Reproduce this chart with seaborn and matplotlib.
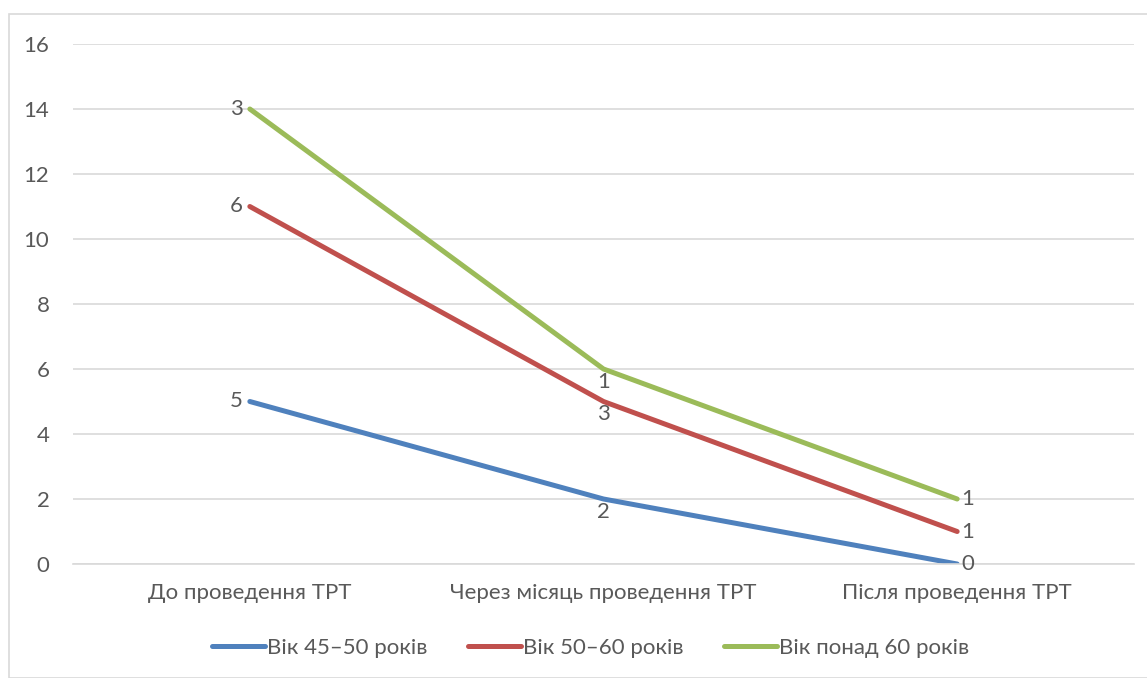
import numpy as np
import pandas as pd
import matplotlib
matplotlib.use("Agg")
import matplotlib.pyplot as plt
import seaborn as sns
from matplotlib.patches import Rectangle

categories = ["До проведення ТРТ", "Через місяць проведення ТРТ", "Після проведення ТРТ"]
series_names = ["Вік 45–50 років", "Вік 50–60 років", "Вік понад 60 років"]
vals_45_50 = [5, 2, 0]
vals_50_60 = [6, 3, 1]
vals_60_plus = [3, 1, 1]
yticks = [0, 2, 4, 6, 8, 10, 12, 14, 16]
colors = ["#4F81BD", "#C0504D", "#9BBB59"]

sns.set_theme(style="white")
plt.rcParams['font.family'] = ['Lato', 'DejaVu Sans']
FS = 16

series_vals = [vals_45_50, vals_50_60, vals_60_plus]
cum = np.cumsum(np.array(series_vals, dtype=float), axis=0)

rows = []
for name, raw, c in zip(series_names, series_vals, cum):
    for i, cat in enumerate(categories):
        rows.append({"cat": cat, "x": i, "series": name, "y": c[i], "raw": raw[i]})
df = pd.DataFrame(rows)

fig = plt.figure(figsize=(11.47, 6.78), dpi=100)
ax = fig.add_axes([73/1147, 1-564/678, (1134-73)/1147, (564-44)/678])

sns.lineplot(data=df, x="x", y="y", hue="series", palette=colors,
             linewidth=3.6, ax=ax, legend=True, sort=False)
for line in ax.get_lines():
    line.set_solid_capstyle("round")

ax.set_xlim(-0.5, 2.5)
ax.set_ylim(0, 16)
ax.set_yticks(yticks)
ax.set_xticks(range(len(categories)))
ax.set_xticklabels(categories)
ax.grid(axis="y", color="#D9D9D9", linewidth=1.2)
ax.set_axisbelow(True)
for s in ax.spines.values():
    s.set_visible(False)
ax.spines["bottom"].set_visible(True)
ax.spines["bottom"].set_color("#D9D9D9")
ax.spines["bottom"].set_linewidth(1.2)
ax.tick_params(axis="both", length=0, labelsize=FS, colors="#595959")
ax.tick_params(axis="x", pad=14)
ax.tick_params(axis="y", pad=17)
ax.set_xlabel("")
ax.set_ylabel("")

# data labels
for _, r in df.iterrows():
    x, y, t = r["x"], r["y"], str(int(r["raw"]))
    if x == 0:
        ax.annotate(t, (x, y), xytext=(-5, 0), textcoords="offset points",
                    ha="right", va="center", fontsize=FS, color="#595959")
    elif x == 1:
        ax.annotate(t, (x, y), xytext=(0, -2), textcoords="offset points",
                    ha="center", va="top", fontsize=FS, color="#595959")
    else:
        ax.annotate(t, (x, y), xytext=(3, 0), textcoords="offset points",
                    ha="left", va="center", fontsize=FS, color="#595959")

handles, labels = ax.get_legend_handles_labels()
ax.legend(handles, labels, loc="center", bbox_to_anchor=(0.515, (678-648)/678),
          bbox_transform=fig.transFigure, ncol=3, frameon=False,
          fontsize=FS, labelcolor="#595959", handlelength=2.4,
          handletextpad=0.1, columnspacing=1.8)

fig.patches.append(Rectangle((9/1147, 0), 1.2, 1-14/678, transform=fig.transFigure,
                             fill=False, edgecolor="#D9D9D9", linewidth=1.2))

fig.savefig("out.png", dpi=100, facecolor="white")
